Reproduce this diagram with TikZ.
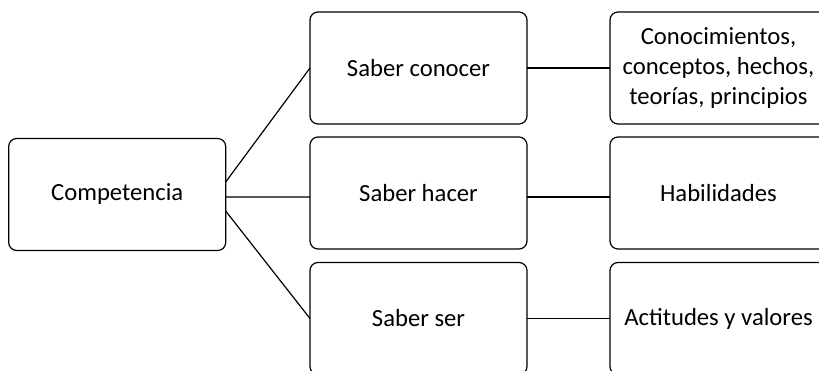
\documentclass[tikz,border=0pt]{standalone}
\usepackage{fontspec}
\setmainfont{Carlito}

\tikzset{every picture/.style={line width=0.9pt}}
\tikzset{
	caja/.style={draw, rounded corners=6pt, minimum width=162.75pt, minimum height=84pt, inner sep=0pt, outer sep=0pt, align=center, font=\fontsize{18.5}{22.5}\selectfont},
}

\begin{document}
\begin{tikzpicture}[x=0.75pt,y=0.75pt,yscale=-1,xscale=1]
	%set diagram area: 819 x 371
	\useasboundingbox (0,0) rectangle (819,371);
	
	%Shape: Rectangle [id:competencia] 
	\node [caja] (comp) at (117.2,194.5) {Competencia};
	
	%Shape: Rectangle [id:saberes] 
	\node [caja] (conocer) at (418.5,68) {Saber conocer};
	\node [caja] (hacer) at (418.5,193) {Saber hacer};
	\node [caja] (ser) at (418.5,318.5) {Saber ser};
	
	%Shape: Rectangle [id:contenidos] 
	\node [caja] (conoc) at (718.5,68) {Conocimientos,\\conceptos, hechos,\\teorías, principios};
	\node [caja] (habil) at (718.5,193) {Habilidades};
	\node [caja] (actit) at (718.5,318.5) {Actitudes y valores};
	
	%Straight Lines [id:ramas] 
	\draw ([yshift=-9.4pt]comp.east) -- (conocer.west);
	\draw ([yshift=1.9pt]comp.east) -- ([yshift=3pt]hacer.west);
	\draw ([yshift=12.4pt]comp.east) -- (ser.west);
	
	%Straight Lines [id:enlaces] 
	\draw (conocer.east) -- (conoc.west);
	\draw ([yshift=3pt]hacer.east) -- ([yshift=3pt]habil.west);
	\draw (ser.east) -- (actit.west);
	
\end{tikzpicture}
\end{document}
